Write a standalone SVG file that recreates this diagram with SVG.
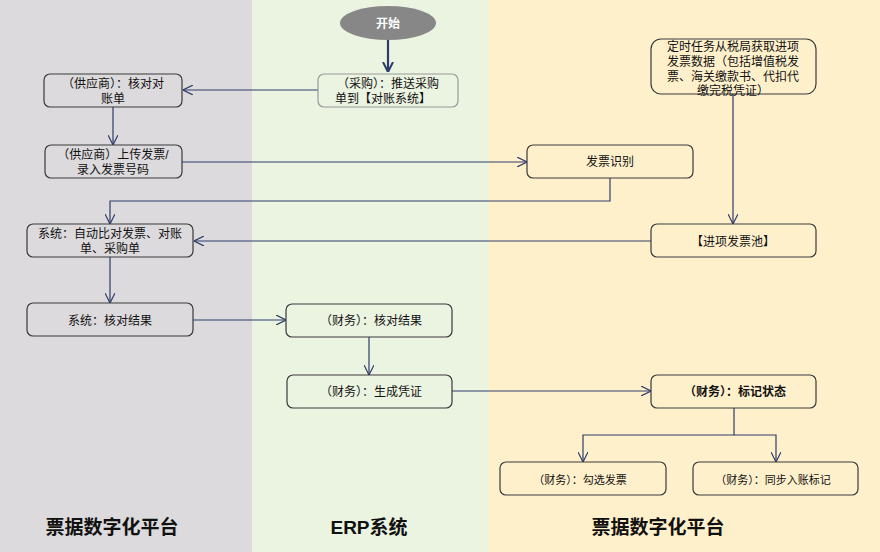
<svg xmlns="http://www.w3.org/2000/svg" width="880" height="552" viewBox="0 0 880 552">
<style>
.n{fill:none;stroke:#3a3a3a;stroke-width:1.2}
.t{font-family:"Liberation Sans","Noto Sans CJK SC",sans-serif;font-size:12px;fill:#111;text-anchor:middle}
.b{font-weight:bold}
.c{fill:none;stroke:#2E3C6A;stroke-width:1.2;marker-end:url(#a)}
.lane{font-family:"Liberation Sans","Noto Sans CJK SC",sans-serif;font-size:19px;font-weight:bold;fill:#111;text-anchor:middle}
</style>
<defs>
<marker id="a" viewBox="0 0 10 10" refX="10" refY="5" markerWidth="10" markerHeight="10" markerUnits="userSpaceOnUse" orient="auto">
<path d="M0,0 L10,5 L0,10" fill="none" stroke="#2E3C6A" stroke-width="1.2"/>
</marker>
<marker id="a2" viewBox="0 0 10 10" refX="10" refY="5" markerWidth="10" markerHeight="12" markerUnits="userSpaceOnUse" orient="auto">
<path d="M0,0 L10,5 L0,10" fill="none" stroke="#2E3C6A" stroke-width="2"/>
</marker>
</defs>
<g id="lanes">
<rect x="0" y="0" width="252" height="552" fill="#DCDADC"/>
<rect x="252" y="0" width="236" height="552" fill="#EBF3E1"/>
<rect x="488" y="0" width="392" height="552" fill="#FFF0CC"/>
<text class="lane" x="112" y="534">票据数字化平台</text>
<text class="lane" x="369" y="534">ERP系统</text>
<text class="lane" x="658" y="534">票据数字化平台</text>
</g>
<g id="connectors">
<path d="M388,40 V72" fill="none" stroke="#2E3C6A" stroke-width="2.2" marker-end="url(#a2)"/>
<path class="c" d="M318,90 H183"/>
<path class="c" d="M113,107 V145"/>
<path class="c" d="M182,162 H527"/>
<path class="c" d="M610,178 V201 H110 V224"/>
<path class="c" d="M733,94 V224"/>
<path class="c" d="M651,241 H194"/>
<path class="c" d="M110,257 V303"/>
<path class="c" d="M193,320 H286"/>
<path class="c" d="M369,337 V375"/>
<path class="c" d="M452,391 H651"/>
<path class="c" d="M734,408 V435 H583 V462"/>
<path class="c" d="M734,435 H776 V462"/>
</g>
<g id="start">
<ellipse cx="388" cy="23" rx="48" ry="17" fill="#878787"/>
<text class="t b" x="388" y="28" style="fill:#fff">开始</text>
</g>
<g id="purchase">
<rect class="n" x="318" y="74" width="140" height="33" rx="6" style="stroke:#9a9a9a"/>
<text class="t" x="388" y="88">（采购）：推送采购</text>
<text class="t" x="383" y="103">单到【对账系统】</text>
</g>
<g id="supplier-check">
<rect class="n" x="44" y="74" width="138" height="33" rx="6"/>
<text class="t" x="113" y="88">（供应商）：核对对</text>
<text class="t" x="113" y="103">账单</text>
</g>
<g id="supplier-upload">
<rect class="n" x="45" y="145" width="137" height="33" rx="6"/>
<text class="t" x="113" y="159">（供应商）上传发票/</text>
<text class="t" x="113" y="174">录入发票号码</text>
</g>
<g id="ocr">
<rect class="n" x="527" y="145" width="166" height="33" rx="6"/>
<text class="t" x="610" y="166">发票识别</text>
</g>
<g id="task">
<rect class="n" x="651" y="39" width="165" height="55" rx="10"/>
<text class="t" x="733" y="51">定时任务从税局获取进项</text>
<text class="t" x="733" y="66">发票数据（包括增值税发</text>
<text class="t" x="733" y="81">票、海关缴款书、代扣代</text>
<text class="t" x="733" y="95">缴完税凭证）</text>
</g>
<g id="pool">
<rect class="n" x="651" y="224" width="165" height="33" rx="6"/>
<text class="t" x="733" y="246">【进项发票池】</text>
</g>
<g id="auto-compare">
<rect class="n" x="27" y="224" width="166" height="33" rx="6"/>
<text class="t" x="110" y="238">系统：自动比对发票、对账</text>
<text class="t" x="110" y="253">单、采购单</text>
</g>
<g id="sys-result">
<rect class="n" x="27" y="303" width="166" height="33" rx="6"/>
<text class="t" x="110" y="325">系统：核对结果</text>
</g>
<g id="fin-result">
<rect class="n" x="286" y="304" width="166" height="33" rx="6"/>
<text class="t" x="371" y="325">（财务）：核对结果</text>
</g>
<g id="voucher">
<rect class="n" x="287" y="375" width="165" height="33" rx="6"/>
<text class="t" x="371" y="396">（财务）：生成凭证</text>
</g>
<g id="mark">
<rect class="n" x="651" y="375" width="165" height="33" rx="6"/>
<text class="t b" x="735" y="396">（财务）：标记状态</text>
</g>
<g id="select">
<rect class="n" x="500" y="462" width="166" height="33" rx="6"/>
<text class="t" x="580" y="484" style="font-size:11px">（财务）：勾选发票</text>
</g>
<g id="sync">
<rect class="n" x="693" y="462" width="165" height="33" rx="6"/>
<text class="t" x="773" y="484" style="font-size:11px">（财务）：同步入账标记</text>
</g>
</svg>
